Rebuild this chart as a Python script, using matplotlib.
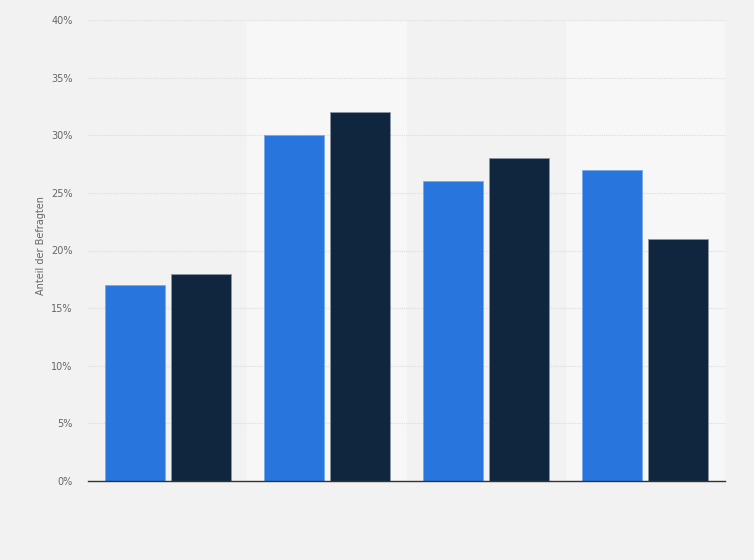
import numpy as np
import matplotlib
matplotlib.use('Agg')
import matplotlib.pyplot as plt

# Werte (Prozent)
groups = ['', '', '', '']
series_a = [17, 30, 26, 27]
series_b = [18, 32, 28, 21]
yticks = [0, 5, 10, 15, 20, 25, 30, 35, 40]

BLUE = '#2876dd'
DARK = '#0f263e'
BG = '#f2f2f2'
BAND = '#f7f7f7'

fig = plt.figure(figsize=(7.54, 5.6), dpi=100, facecolor=BG)
ax = fig.add_axes([88/754, 79/560, 637/754, 461/560])
ax.set_facecolor(BG)

x = np.arange(len(groups))
w = 0.377
off = 0.207

# abwechselnde Hintergrundstreifen
for i in x:
    if i % 2 == 1:
        ax.axvspan(i - 0.5, i + 0.5, color=BAND, zorder=0, lw=0)

ax.bar(x - off, series_a, width=w, color=BLUE, edgecolor='#7aa9ea', linewidth=0.6, zorder=3)
ax.bar(x + off, series_b, width=w, color=DARK, edgecolor='#8a96a3', linewidth=0.6, zorder=3)

ax.set_xlim(-0.5, len(groups) - 0.5)
ax.set_ylim(0, 40)
ax.set_yticks(yticks)
ax.set_yticklabels([f'{v}%' for v in yticks], color='#666666', fontsize=7)
ax.set_xticks([])
ax.tick_params(axis='y', length=0, pad=11)
ax.yaxis.grid(True, color='#dcdcdc', linestyle=(0, (1, 1)), linewidth=0.8, zorder=1)
ax.set_axisbelow(True)

for s in ['top', 'right', 'left']:
    ax.spines[s].set_visible(False)
ax.spines['bottom'].set_color('#333333')
ax.spines['bottom'].set_linewidth(1.0)
ax.spines['bottom'].set_zorder(4)

ax.set_ylabel('Anteil der Befragten', color='#666666', fontsize=7)
ax.yaxis.set_label_coords(-0.066, 0.51)

plt.savefig('out.png', dpi=100, facecolor=BG)
